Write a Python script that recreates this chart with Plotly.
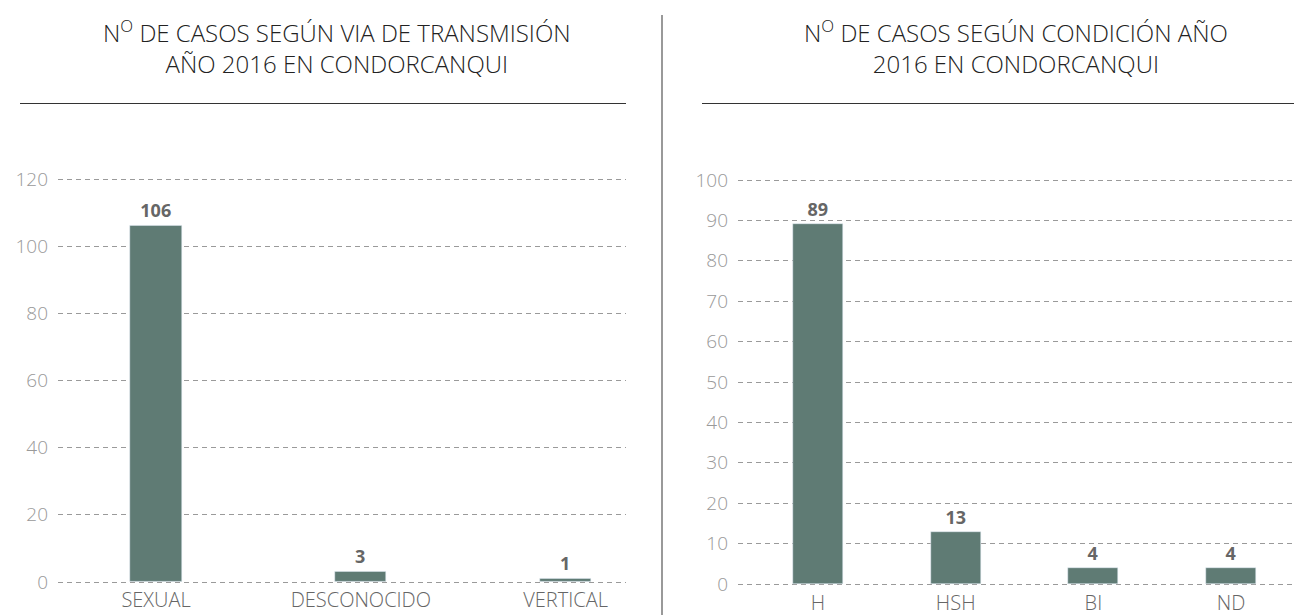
import plotly.graph_objects as go

W, H = 1294, 615

# Left chart data
via_categories = ["SEXUAL", "DESCONOCIDO", "VERTICAL"]
via_values = [106, 3, 1]
via_ticks = [0, 20, 40, 60, 80, 100, 120]

# Right chart data
cond_categories = ["H", "HSH", "BI", "ND"]
cond_values = [89, 13, 4, 4]
cond_ticks = [0, 10, 20, 30, 40, 50, 60, 70, 80, 90, 100]

left_title = "N<sup>O</sup> DE CASOS SEGÚN VIA DE TRANSMISIÓN<br>AÑO 2016 EN CONDORCANQUI"
right_title = "N<sup>O</sup> DE CASOS SEGÚN CONDICIÓN AÑO<br>2016 EN CONDORCANQUI"

BAR = "#5f7b74"
FONT = "Open Sans"

def px_x(p):
    return p / W

def px_y(p):
    return 1 - p / H

fig = go.Figure()

fig.add_trace(go.Bar(
    x=via_categories, y=via_values, text=[str(v) for v in via_values],
    textposition="outside", cliponaxis=False, marker_color=BAR, width=0.25,
    textfont=dict(family=FONT, size=18, color="#666", weight=700),
    xaxis="x", yaxis="y", showlegend=False, hoverinfo="skip",
))
fig.add_trace(go.Bar(
    x=cond_categories, y=cond_values, text=[str(v) for v in cond_values],
    textposition="outside", cliponaxis=False, marker_color=BAR, width=0.363,
    textfont=dict(family=FONT, size=18, color="#666", weight=700),
    xaxis="x2", yaxis="y2", showlegend=False, hoverinfo="skip",
))

common_y = dict(showgrid=True, gridcolor="#9a9a9a", griddash="5px,4px", gridwidth=1,
                zeroline=False, showline=False, ticks="", automargin=False,
                tickfont=dict(family=FONT, size=19, color="#999", weight=300),
                ticklabelstandoff=9)
common_x = dict(showgrid=False, zeroline=False, showline=False, ticks="",
                automargin=False,
                tickfont=dict(family=FONT, size=20, color="#666", weight=300),
                ticklabelstandoff=1)

# left: 3.358 px per unit, 0 at y=582; right: 4.04 px per unit, 0 at y=584
fig.update_layout(
    width=W, height=H, autosize=False,
    margin=dict(l=0, r=0, t=0, b=0, pad=0),
    paper_bgcolor="white", plot_bgcolor="white",
    bargap=0,
    xaxis=dict(domain=[px_x(58), px_x(626)], range=[-0.479, 2.295],
               anchor="y", **common_x),
    yaxis=dict(domain=[px_y(582 + 3.358), px_y(179 - 3.358)], range=[-1, 121],
               tickvals=via_ticks, anchor="x", **common_y),
    xaxis2=dict(domain=[px_x(738), 1.0], range=[-0.581, 3.457],
                anchor="y2", **common_x),
    yaxis2=dict(domain=[px_y(584 + 4.04), px_y(180 - 4.04)], range=[-1, 101],
                tickvals=cond_ticks, anchor="x2", **common_y),
    annotations=[
        dict(text=left_title, x=px_x(337), y=px_y(47), xref="paper", yref="paper",
             showarrow=False, xanchor="center", yanchor="middle",
             font=dict(family=FONT, size=24, color="#222", weight=300)),
        dict(text=right_title, x=px_x(1016), y=px_y(47), xref="paper", yref="paper",
             showarrow=False, xanchor="center", yanchor="middle",
             font=dict(family=FONT, size=24, color="#222", weight=300)),
    ],
    shapes=[
        dict(type="line", xref="paper", yref="paper", x0=px_x(20), x1=px_x(626),
             y0=px_y(103.5), y1=px_y(103.5), line=dict(color="#333", width=1)),
        dict(type="line", xref="paper", yref="paper", x0=px_x(702), x1=1.0,
             y0=px_y(103.5), y1=px_y(103.5), line=dict(color="#333", width=1)),
        dict(type="line", xref="paper", yref="paper", x0=px_x(662), x1=px_x(662),
             y0=px_y(15), y1=0, line=dict(color="#999", width=2)),
    ],
)

fig.write_html("out.html", config={"displayModeBar": False},
               post_script="document.body.style.margin='0';document.body.style.overflow='hidden';")
